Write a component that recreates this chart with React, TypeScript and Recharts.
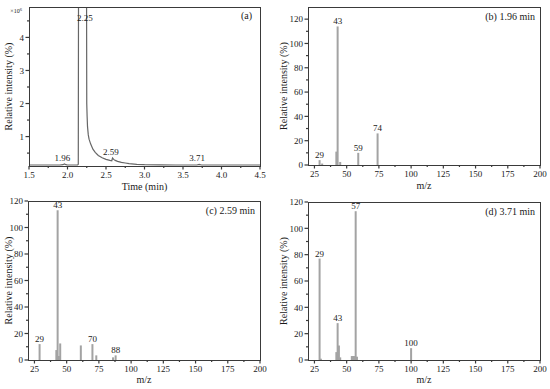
import React from 'react';
import {
  LineChart,
  Line,
  BarChart,
  Bar,
  XAxis,
  YAxis,
  ReferenceArea,
  ReferenceDot,
  LabelList,
  Label,
} from 'recharts';

const FONT = '"Liberation Serif", "Times New Roman", serif';
const AXIS = '#3a3a3a';
const INK = '#1a1a1a';
const STICK = '#a3a3a3';

// (a) chromatogram, intensity in units of 10^6
const chromTime = [
  1.5, 1.6, 1.7, 1.8, 1.9, 1.94, 1.96, 1.98, 2.0, 2.05, 2.1, 2.13, 2.14, 2.145, 2.2, 2.245, 2.25, 2.255,
  2.26, 2.27, 2.28, 2.3, 2.33, 2.36, 2.4, 2.45, 2.5, 2.55, 2.575, 2.585, 2.6, 2.62, 2.65, 2.7, 2.75, 2.8,
  2.9, 3.0, 3.2, 3.4, 3.6, 3.68, 3.71, 3.74, 3.8, 4.0, 4.2, 4.5,
];
const chromSignal = [
  0.14, 0.14, 0.14, 0.14, 0.14, 0.15, 0.17, 0.15, 0.14, 0.14, 0.14, 0.14, 0.16, 8.5, 11, 8.5, 2.0, 1.6,
  1.3, 1.05, 0.92, 0.78, 0.62, 0.52, 0.43, 0.36, 0.31, 0.28, 0.27, 0.35, 0.31, 0.28, 0.25, 0.22, 0.2, 0.18,
  0.16, 0.15, 0.145, 0.14, 0.14, 0.14, 0.16, 0.14, 0.14, 0.14, 0.14, 0.14,
];
const peakTimes = [1.96, 2.25, 2.59, 3.71];
const peakApex = [0.17, 11, 0.35, 0.16];
const peakLabels = ['1.96', '2.25', '2.59', '3.71'];

const timeMajor = [1.5, 2.0, 2.5, 3.0, 3.5, 4.0, 4.5];
const timeMinor = [1.75, 2.25, 2.75, 3.25, 3.75, 4.25];
const chromMajor = [1, 2, 3, 4];
const chromMinor = [0.5, 1.5, 2.5, 3.5, 4.5];

// (b)-(d) mass spectra
const mzB = [29, 31, 42, 43, 45, 59, 74];
const intB = [4, 1.2, 11, 114, 2.5, 10, 26];
const tagsB = [29, 43, 59, 74];

const mzC = [29, 42, 43, 44, 45, 61, 70, 73, 86, 88];
const intC = [12, 7.5, 113, 3, 12.5, 11, 12, 3.5, 2, 3.5];
const tagsC = [29, 43, 70, 88];

const mzD = [29, 30, 42, 43, 44, 45, 54, 55, 56, 57, 58, 100];
const intD = [77, 1, 6, 28, 11, 2, 3, 3, 3, 113, 2.5, 9];
const tagsD = [29, 43, 57, 100];

const mzMajor = [25, 50, 75, 100, 125, 150, 175, 200];
const mzMinor = [37.5, 62.5, 87.5, 112.5, 137.5, 162.5, 187.5];
const relMajor = [0, 20, 40, 60, 80, 100, 120];
const relMinor = [10, 30, 50, 70, 90, 110];

const textStyle = { fontFamily: FONT };

const isIn = (list: number[], v: number) => list.some((m) => Math.abs(m - v) < 1e-9);

const bottomTick = (majors: number[], fmt: (v: number) => string) => (p: any) => {
  const v = p.payload.value;
  const major = isIn(majors, v);
  return (
    <g>
      <rect x={p.x - 0.6} y={p.y} width={1.2} height={major ? 3.5 : 2} fill={AXIS} />
      {major && (
        <text x={p.x} y={p.y + 11.5} textAnchor="middle" fontSize={9} fill={INK} style={textStyle}>
          {fmt(v)}
        </text>
      )}
    </g>
  );
};

const leftTick = (majors: number[]) => (p: any) => {
  const v = p.payload.value;
  const major = isIn(majors, v);
  const len = major ? 3.5 : 2;
  return (
    <g>
      <rect x={p.x - len} y={p.y - 0.6} width={len} height={1.2} fill={AXIS} />
      {major && (
        <text x={p.x - 5} y={p.y + 3.2} textAnchor="end" fontSize={9} fill={INK} style={textStyle}>
          {v}
        </text>
      )}
    </g>
  );
};

// panel tag in the top-right corner of the plot area
const cornerTag = (text: string, fromRight: number, baseline: number, scaleNote = false) => (props: any) => {
  const vb = props.viewBox;
  return (
    <g>
      <text x={vb.x + vb.width - fromRight} y={vb.y + baseline} textAnchor="end" fontSize={10} fill={INK} style={textStyle}>
        {text}
      </text>
      {scaleNote && (
        <text x={vb.x - 7} y={vb.y + 6} textAnchor="end" fontSize={6} fill={INK} style={textStyle}>
          ×10
          <tspan dy={-2.5} fontSize={4.5}>
            6
          </tspan>
        </text>
      )}
    </g>
  );
};

const yTitle = (
  <Label
    value="Relative intensity (%)"
    angle={-90}
    position="insideLeft"
    offset={8}
    fontSize={10}
    fill={INK}
    style={{ textAnchor: 'middle', fontFamily: FONT }}
  />
);

const timeDomain: [number, number] = [1.5, 4.5];
const chromDomain: [number, number] = [0.11, 4.92];

const Chromatogram = () => {
  const data = chromTime.map((t, i) => ({ t, v: chromSignal[i] }));
  return (
    <LineChart width={275} height={195} data={data} margin={{ top: 7, right: 15, bottom: 0, left: 0 }}>
      <XAxis
        dataKey="t"
        type="number"
        domain={timeDomain}
        allowDataOverflow
        ticks={[...timeMajor, ...timeMinor].sort((a, b) => a - b)}
        interval={0}
        height={29}
        axisLine={false}
        tickLine={false}
        tickSize={0}
        tickMargin={0}
        tick={bottomTick(timeMajor, (v) => v.toFixed(1))}
      >
        <Label value="Time (min)" position="insideBottom" offset={5} fontSize={10} fill={INK} style={textStyle} />
      </XAxis>
      <YAxis
        type="number"
        domain={chromDomain}
        allowDataOverflow
        ticks={[...chromMinor, ...chromMajor].sort((a, b) => a - b).filter((v) => v > chromDomain[0] && v < chromDomain[1])}
        interval={0}
        width={29}
        axisLine={false}
        tickLine={false}
        tickSize={0}
        tickMargin={0}
        tick={leftTick(chromMajor)}
      >
        {yTitle}
      </YAxis>
      <Line dataKey="v" type="linear" stroke="#666" strokeWidth={1.2} dot={false} isAnimationActive={false} />
      <ReferenceArea
        x1={timeDomain[0]}
        x2={timeDomain[1]}
        y1={chromDomain[0]}
        y2={chromDomain[1]}
        fill="none"
        fillOpacity={0}
        strokeOpacity={0}
      >
        <Label content={cornerTag('(a)', 8, 12, true)} />
      </ReferenceArea>
      {peakTimes.map((t, i) => {
        const clipped = peakApex[i] > chromDomain[1];
        return (
          <ReferenceDot
            key={t}
            x={t}
            y={Math.min(peakApex[i], chromDomain[1])}
            r={0}
            fill="none"
            stroke="none"
            ifOverflow="visible"
            label={{
              value: peakLabels[i],
              position: clipped ? 'bottom' : 'top',
              offset: clipped ? 8 : 3,
              fontSize: 9,
              fill: INK,
              style: textStyle,
              dx: -2,
            }}
          />
        );
      })}
    </LineChart>
  );
};

const Stick = (p: any) => <rect x={p.x + p.width / 2 - 1} y={p.y} width={2} height={p.height} fill={STICK} />;

type SpectrumProps = {
  mz: number[];
  intensity: number[];
  tags: number[];
  tag: string;
  yMax: number;
  height: number;
  top: number;
  left: number;
  right: number;
};

const Spectrum = ({ mz, intensity, tags, tag, yMax, height, top, left, right }: SpectrumProps) => {
  const data = mz.map((m, i) => ({ mz: m, intensity: intensity[i], tag: tags.includes(m) ? String(m) : undefined }));
  const xDomain: [number, number] = [20, 200];
  const yDomain: [number, number] = [0, yMax];
  return (
    <BarChart width={275} height={height} data={data} margin={{ top, right, bottom: 0, left: 0 }}>
      <XAxis
        dataKey="mz"
        type="number"
        domain={xDomain}
        allowDataOverflow
        ticks={[...mzMajor, ...mzMinor].sort((a, b) => a - b)}
        interval={0}
        height={height - 165}
        axisLine={false}
        tickLine={false}
        tickSize={0}
        tickMargin={0}
        tick={bottomTick(mzMajor, (v) => String(v))}
      >
        <Label value="m/z" position="insideBottom" offset={6} fontSize={10} fill={INK} style={textStyle} />
      </XAxis>
      <YAxis
        type="number"
        domain={yDomain}
        allowDataOverflow
        ticks={[...relMajor, ...relMinor].sort((a, b) => a - b)}
        interval={0}
        width={left}
        axisLine={false}
        tickLine={false}
        tickSize={0}
        tickMargin={0}
        tick={leftTick(relMajor)}
      >
        {yTitle}
      </YAxis>
      <Bar dataKey="intensity" shape={Stick} isAnimationActive={false}>
        <LabelList dataKey="tag" position="top" offset={2} fontSize={9} fill={INK} style={textStyle} />
      </Bar>
      <ReferenceArea
        x1={xDomain[0]}
        x2={xDomain[1]}
        y1={yDomain[0]}
        y2={yDomain[1]}
        fill="none"
        fillOpacity={0}
        strokeOpacity={0}
      >
        <Label content={cornerTag(tag, 5, 13)} />
      </ReferenceArea>
    </BarChart>
  );
};

// plot-area box drawn over each chart (left, top, right, bottom of the plot area inside the panel)
const Box = ({ l, t, r, b }: { l: number; t: number; r: number; b: number }) => (
  <div
    style={{
      position: 'absolute',
      left: l - 0.5,
      top: t - 0.5,
      width: r - l - 1,
      height: b - t - 1,
      border: `1px solid ${AXIS}`,
      pointerEvents: 'none',
    }}
  />
);

export default function App() {
  return (
    <div
      style={{
        position: 'absolute',
        left: 0,
        top: 0,
        width: 550,
        height: 389,
        background: '#fff',
        overflow: 'hidden',
        fontFamily: FONT,
      }}
    >
      <div style={{ position: 'absolute', left: 0, top: 0, width: 275, height: 195 }}>
        <Chromatogram />
        <Box l={29} t={7} r={260} b={166} />
      </div>
      <div style={{ position: 'absolute', left: 275, top: 0, width: 275, height: 195 }}>
        <Spectrum mz={mzB} intensity={intB} tags={tagsB} tag="(b) 1.96 min" yMax={130} height={195} top={7} left={33} right={10} />
        <Box l={33} t={7} r={265} b={165} />
      </div>
      <div style={{ position: 'absolute', left: 0, top: 195, width: 275, height: 194 }}>
        <Spectrum mz={mzC} intensity={intC} tags={tagsC} tag="(c) 2.59 min" yMax={120} height={194} top={6} left={28} right={15} />
        <Box l={28} t={6} r={260} b={165} />
      </div>
      <div style={{ position: 'absolute', left: 275, top: 195, width: 275, height: 194 }}>
        <Spectrum mz={mzD} intensity={intD} tags={tagsD} tag="(d) 3.71 min" yMax={120} height={194} top={7} left={33} right={10} />
        <Box l={33} t={7} r={265} b={165} />
      </div>
    </div>
  );
}
